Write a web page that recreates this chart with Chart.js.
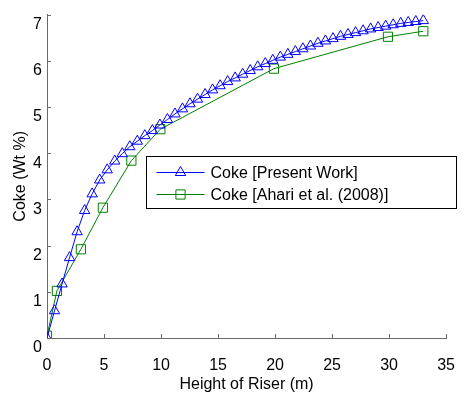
<!DOCTYPE html>
<html>
<head>
<meta charset="utf-8">
<script src="https://cdn.jsdelivr.net/npm/chart.js@4.4.1/dist/chart.umd.min.js"></script>
<style>
  html, body { margin: 0; padding: 0; background: #fff; }
  #wrap { width: 473px; height: 398px; }
</style>
</head>
<body>
<div id="wrap"><canvas id="cokeChart"></canvas></div>
<script>
// riser height (m) and coke yield (wt %)
const presentHeight = [0, 0.66, 1.32, 1.98, 2.64, 3.3, 3.96, 4.62, 5.28, 5.94, 6.6, 7.26, 7.92, 8.58, 9.24,
  9.9, 10.56, 11.22, 11.88, 12.54, 13.2, 13.86, 14.52, 15.18, 15.84, 16.5, 17.16, 17.82, 18.48, 19.14,
  19.8, 20.46, 21.12, 21.78, 22.44, 23.1, 23.76, 24.42, 25.08, 25.74, 26.4, 27.06, 27.72, 28.38, 29.04,
  29.7, 30.36, 31.02, 31.68, 32.34, 33];
const presentCoke = [0, 0.59, 1.17, 1.74, 2.30, 2.76, 3.12, 3.42, 3.64, 3.83, 3.99, 4.14, 4.26, 4.38, 4.49,
  4.61, 4.73, 4.85, 4.96, 5.07, 5.17, 5.27, 5.37, 5.46, 5.55, 5.63, 5.71, 5.79, 5.87, 5.94,
  6.01, 6.08, 6.14, 6.20, 6.26, 6.32, 6.38, 6.43, 6.48, 6.53, 6.57, 6.61, 6.65, 6.69, 6.72,
  6.75, 6.78, 6.81, 6.83, 6.85, 6.87];

const ahariHeight = [0, 0.87, 2.97, 4.9, 7.4, 9.94, 19.9, 29.9, 33];
const ahariCoke = [0.05, 1.02, 1.92, 2.82, 3.84, 4.52, 5.83, 6.52, 6.64];

const xTicks = [0, 5, 10, 15, 20, 25, 30, 35];
const yTicks = [0, 1, 2, 3, 4, 5, 6, 7];

const seriesNames = ['Coke [Present Work]', 'Coke [Ahari et al. (2008)]'];

const FONT = "'Liberation Sans', Arial, sans-serif";
const FONT_SIZE = 16;
const AXIS_GRAY = '#6a6a6a';

function toPoints(xs, ys) {
  return xs.map((x, i) => ({ x: x, y: ys[i] }));
}

// small tick marks pointing into the plot area
const innerTicks = {
  id: 'innerTicks',
  beforeDatasetsDraw(chart) {
    const ctx = chart.ctx;
    const xs = chart.scales.x, ys = chart.scales.y;
    const area = chart.chartArea;
    ctx.save();
    ctx.strokeStyle = AXIS_GRAY;
    ctx.lineWidth = 1;
    ctx.beginPath();
    xTicks.forEach(v => {
      if (v === 0) return;
      const px = Math.round(xs.getPixelForValue(v)) + 0.5;
      ctx.moveTo(px, area.bottom);
      ctx.lineTo(px, area.bottom - 4);
    });
    yTicks.forEach(v => {
      if (v === 0) return;
      const py = Math.round(ys.getPixelForValue(v)) + 0.5;
      ctx.moveTo(area.left, py);
      ctx.lineTo(area.left + 4, py);
    });
    ctx.stroke();
    ctx.restore();
  }
};

// boxed legend sitting inside the plot
const boxLegend = {
  id: 'boxLegend',
  afterDraw(chart) {
    const ctx = chart.ctx;
    const left = 146.5, top = 156.5, w = 310, h = 52;
    ctx.save();
    ctx.fillStyle = '#fff';
    ctx.fillRect(left, top, w, h);
    ctx.strokeStyle = '#000';
    ctx.lineWidth = 1;
    ctx.strokeRect(left, top, w, h);
    ctx.font = FONT_SIZE + 'px ' + FONT;
    ctx.textBaseline = 'middle';
    chart.data.datasets.forEach((ds, i) => {
      const y = top + 16 + i * 22;
      ctx.strokeStyle = ds.borderColor;
      ctx.lineWidth = 1;
      ctx.beginPath();
      ctx.moveTo(left + 10, y);
      ctx.lineTo(left + 58, y);
      ctx.stroke();
      ctx.fillStyle = 'rgba(0,0,0,0)';
      Chart.helpers.drawPoint(ctx, {
        pointStyle: ds.pointStyle,
        radius: ds.pointRadius,
        borderWidth: 1
      }, left + 34, y);
      ctx.fillStyle = '#000';
      ctx.fillText(ds.label, left + 64, y + 1);
    });
    ctx.restore();
  }
};

new Chart(document.getElementById('cokeChart'), {
  type: 'scatter',
  data: {
    datasets: [
      {
        label: seriesNames[0],
        data: toPoints(presentHeight, presentCoke),
        showLine: true,
        borderColor: '#0000ff',
        backgroundColor: 'rgba(0,0,0,0)',
        borderWidth: 1,
        pointStyle: 'triangle',
        pointRadius: 6,
        pointBorderWidth: 1,
        pointHoverRadius: 6
      },
      {
        label: seriesNames[1],
        data: toPoints(ahariHeight, ahariCoke),
        showLine: true,
        borderColor: '#008000',
        backgroundColor: 'rgba(0,0,0,0)',
        borderWidth: 1,
        pointStyle: 'rect',
        pointRadius: 6.5,
        pointBorderWidth: 1,
        pointHoverRadius: 6.5
      }
    ]
  },
  options: {
    responsive: true,
    maintainAspectRatio: false,
    animation: false,
    layout: { padding: { top: 6, right: 10, left: 0, bottom: 0 } },
    plugins: {
      legend: { display: false },
      tooltip: { enabled: false }
    },
    scales: {
      x: {
        type: 'linear',
        min: 0,
        max: 35,
        afterFit: s => { s.height = 60; },
        afterBuildTicks: s => { s.ticks = xTicks.map(v => ({ value: v })); },
        grid: { drawOnChartArea: false, drawTicks: false },
        border: { color: AXIS_GRAY, width: 1 },
        ticks: { color: '#000', font: { family: FONT, size: FONT_SIZE }, padding: 18, maxRotation: 0 },
        title: {
          display: true,
          text: 'Height of Riser (m)',
          color: '#000',
          font: { family: FONT, size: FONT_SIZE },
          padding: { top: 0, bottom: 4 }
        }
      },
      y: {
        type: 'linear',
        min: 0,
        max: 7,
        afterFit: s => { s.width = 47; },
        afterBuildTicks: s => { s.ticks = yTicks.map(v => ({ value: v })); },
        grid: { drawOnChartArea: false, drawTicks: false },
        border: { color: AXIS_GRAY, width: 1 },
        ticks: { color: '#000', font: { family: FONT, size: FONT_SIZE }, padding: 5, labelOffset: 10 },
        title: {
          display: true,
          text: 'Coke (Wt %)',
          color: '#000',
          font: { family: FONT, size: FONT_SIZE },
          padding: { top: 11, bottom: 0 }
        }
      }
    }
  },
  plugins: [innerTicks, boxLegend]
});
</script>
</body>
</html>
